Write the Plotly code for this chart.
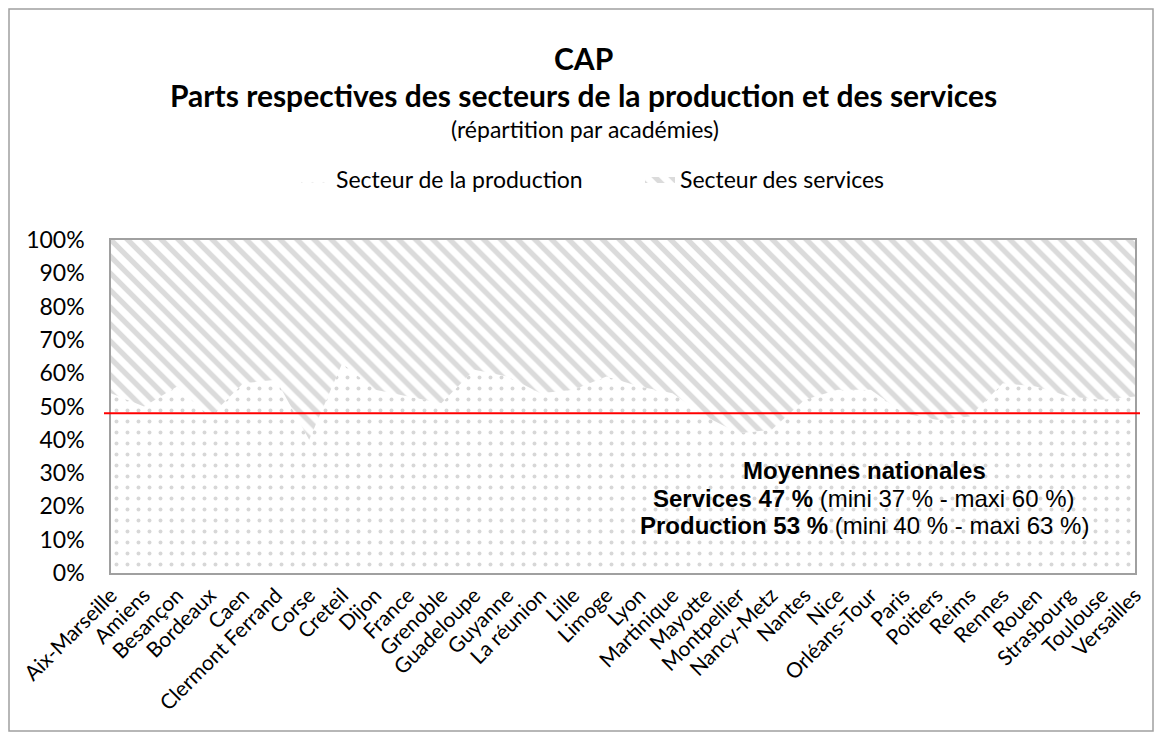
import plotly.graph_objects as go

categories = ["Aix-Marseille", "Amiens", "Besançon", "Bordeaux", "Caen", "Clermont Ferrand",
              "Corse", "Creteil", "Dijon", "France", "Grenoble", "Guadeloupe", "Guyanne",
              "La réunion", "Lille", "Limoge", "Lyon", "Martinique", "Mayotte", "Montpellier",
              "Nancy-Metz", "Nantes", "Nice", "Orléans-Tour", "Paris", "Poitiers", "Reims",
              "Rennes", "Rouen", "Strasbourg", "Toulouse", "Versailles"]

production = [54, 50, 56, 47, 57, 58, 40, 63, 55, 53, 51, 61, 59, 54, 55, 59,
              56, 54, 47, 42, 43, 52, 55, 55, 48, 46, 47, 57, 56, 53, 52, 53]
services = [46, 50, 44, 53, 43, 42, 60, 37, 45, 47, 49, 39, 41, 46, 45, 41,
            44, 46, 53, 58, 57, 48, 45, 45, 52, 54, 53, 43, 44, 47, 48, 47]

reference_line = 48
y_ticks = [0, 10, 20, 30, 40, 50, 60, 70, 80, 90, 100]

# page has an 8px body margin: figure is drawn from (8, 8)
OFF = 8
W, H = 1146, 724
L, R, T, B = 111, 1135, 240, 573  # plot area in page pixels


def px(x):
    return (x - L) / (R - L)


def py(y):
    return (B - y) / (B - T)


fig = go.Figure()
fig.add_trace(go.Scatter(
    x=categories, y=production, name="Secteur de la production",
    mode="lines", line=dict(width=0, color="#BFBFBF"), stackgroup="one",
    fillcolor="white", legend="legend",
    fillpattern=dict(shape=".", fgcolor="#AFAFAF", bgcolor="white", size=11, solidity=0.1),
))
fig.add_trace(go.Scatter(
    x=categories, y=services, name="Secteur des services",
    mode="lines", line=dict(width=0, color="#BFBFBF"), stackgroup="one",
    fillcolor="white", legend="legend2",
    fillpattern=dict(shape="\\", fgcolor="#B8B8B8", bgcolor="white", size=12, solidity=0.45),
))

fig.add_shape(type="line", xref="paper", yref="y", x0=px(104), x1=px(1140),
              y0=reference_line, y1=reference_line,
              line=dict(color="#FF0000", width=2))

font_main = "Lato, Calibri, Carlito, sans-serif"
font_note = "Liberation Sans, Arial"

annotations = [
    dict(text="<b>CAP</b>", x=px(583), y=py(58), font=dict(size=30)),
    dict(text="<b>Parts respectives des secteurs de la production et des services</b>",
         x=px(583), y=py(95), font=dict(size=30)),
    dict(text="(répartition par académies)", x=px(585), y=py(129), font=dict(size=23)),
    dict(text="<b>Moyennes nationales</b>", x=px(864), y=py(470),
         font=dict(size=24, family=font_note)),
    dict(text="<b>Services 47 %</b> (mini 37 % - maxi 60 %)", x=px(864), y=py(498),
         font=dict(size=24, family=font_note)),
    dict(text="<b>Production 53 %</b> (mini 40 % - maxi 63 %)", x=px(864), y=py(525),
         font=dict(size=24, family=font_note)),
]
for a in annotations:
    fig.add_annotation(xref="paper", yref="paper", showarrow=False,
                       xanchor="center", yanchor="middle", **a)

fig.add_shape(type="rect", xref="paper", yref="paper",
              x0=px(9), x1=px(1153), y0=py(9), y1=py(731),
              line=dict(color="#A0A0A0", width=1.5), layer="below")

legend_style = dict(orientation="h", yanchor="middle", y=py(179), xanchor="left",
                    font=dict(size=23), itemwidth=30, bgcolor="rgba(0,0,0,0)")

fig.update_layout(
    width=W, height=H,
    margin=dict(l=L - OFF, r=W - (R - OFF), t=T - OFF, b=H - (B - OFF), autoexpand=False),
    paper_bgcolor="white", plot_bgcolor="white",
    font=dict(family=font_main, color="#000000", size=22),
    showlegend=True,
    legend=dict(x=px(296), **legend_style),
    legend2=dict(x=px(640), **legend_style),
    xaxis=dict(type="category", range=[0, len(categories) - 1], tickangle=-45,
               showgrid=False, showline=True, linecolor="#A0A0A0", linewidth=1.5,
               mirror=True, ticks="", tickfont=dict(size=21)),
    yaxis=dict(range=[0, 100], tickvals=y_ticks, ticktext=[f"{v}%" for v in y_ticks],
               showgrid=False, showline=True, linecolor="#A0A0A0", linewidth=1.5,
               mirror=True, ticks="", tickfont=dict(size=23), zeroline=False,
               ticklabelstandoff=20),
)

fig.write_html("out.html")
